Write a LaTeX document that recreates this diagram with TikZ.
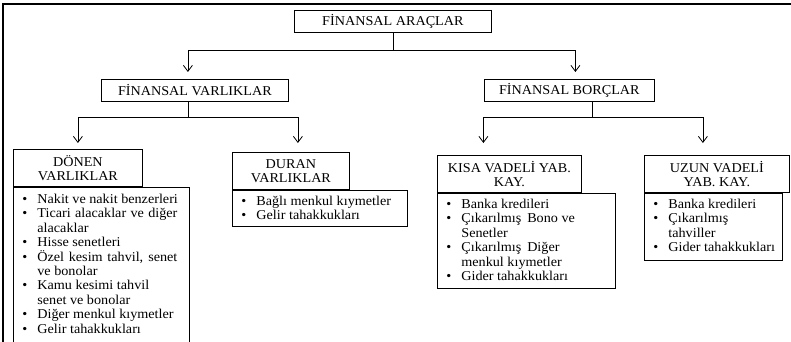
\documentclass[tikz,border=0pt]{standalone}
\usepackage{fontspec}
\setmainfont{Liberation Serif}[FakeStretch=1.05]
\usetikzlibrary{arrows.meta}
\newcommand{\bi}[1]{\hspace*{9pt}\makebox[15pt][l]{\textbullet}#1}
\newcommand{\ci}[1]{\hspace*{24pt}#1}
\newcommand{\ji}[2]{\hspace*{9pt}\makebox[15pt][l]{\textbullet}\makebox[#1][s]{#2}}
\begin{document}
\begin{tikzpicture}[x=1pt,y=-1pt,
  font=\fontsize{13.5}{14.4}\selectfont,
  box/.style={draw, line width=0.8pt, inner sep=0pt, anchor=north west, align=center},
  listbox/.style={draw, line width=0.8pt, inner sep=0pt, anchor=north west},
  conn/.style={line width=0.8pt},
  arr/.style={line width=0.8pt,-{Straight Barb[length=6pt,width=9pt]}}]
\useasboundingbox (0,0) rectangle (791,342);
\fill[white] (0,0) rectangle (791,342);
\draw[line width=1.4pt] (3,342) -- (3,4) -- (791,4);

% level 1 and 2
\node[box, minimum width=197pt, minimum height=22pt] (a) at (294,10) {FİNANSAL ARAÇLAR};
\node[box, minimum width=187pt, minimum height=22pt] (v) at (101,79) {FİNANSAL VARLIKLAR};
\node[box, minimum width=170pt, minimum height=22pt] (b) at (484,79) {FİNANSAL BORÇLAR};

% level 3 headers
\node[box, minimum width=129pt, minimum height=37pt] (d) at (13,149) {DÖNEN\\VARLIKLAR};
\node[box, minimum width=117pt, minimum height=37pt] (u) at (232,152) {DURAN\\VARLIKLAR};
\node[box, minimum width=144pt, minimum height=37pt] (k) at (437,155) {KISA VADELİ YAB.\\KAY.};
\node[box, minimum width=145pt, minimum height=37pt] (z) at (644,155) {UZUN VADELİ\\YAB. KAY.};

% lists
\node[listbox] (dl) at (d.south west) {\parbox[c][155pt][t]{176pt}{\raggedright\vspace*{7pt}%
\bi{Nakit ve nakit benzerleri}\\
\ji{140pt}{Ticari alacaklar ve diğer}\\
\ci{alacaklar}\\
\bi{Hisse senetleri}\\
\ji{140pt}{Özel kesim tahvil, senet}\\
\ci{ve bonolar}\\
\bi{Kamu kesimi tahvil}\\
\ci{senet ve bonolar}\\
\bi{Diğer menkul kıymetler}\\
\bi{Gelir tahakkukları}}};

\node[listbox] (ul) at (u.south west) {\parbox[c][36pt][t]{175pt}{\raggedright\vspace*{6pt}%
\bi{Bağlı menkul kıymetler}\\
\bi{Gelir tahakkukları}}};

\node[listbox] (kl) at (k.south west) {\parbox[c][95pt][t]{178pt}{\raggedright\vspace*{6pt}%
\bi{Banka kredileri}\\
\bi{Çıkarılmış\hspace{6pt}Bono ve}\\
\ci{Senetler}\\
\bi{Çıkarılmış\hspace{6pt}Diğer}\\
\ci{menkul kıymetler}\\
\bi{Gider tahakkukları}}};

\node[listbox] (zl) at (z.south west) {\parbox[c][67pt][t]{138pt}{\raggedright\vspace*{6pt}%
\bi{Banka kredileri}\\
\bi{Çıkarılmış}\\
\ci{tahviller}\\
\bi{Gider tahakkukları}}};

% connectors
\draw[conn] (a.south) -- ++(0,18) coordinate (ja);
\draw[arr, shorten >=7pt] (ja) -| ([xshift=-7pt]v.north);
\draw[arr, shorten >=7pt] (ja) -| ([xshift=6pt]b.north);

\draw[conn] ([xshift=-7pt]v.south) -- ++(0,16) coordinate (jv);
\draw[arr, shorten >=6pt] (jv) -| (d.north);
\draw[arr, shorten >=9pt] (jv) -| ([xshift=7pt]u.north);

\draw[conn] ([xshift=23pt]b.south) -- ++(0,16) coordinate (jb);
\draw[arr, shorten >=12pt] (jb) -| ([xshift=-26pt]k.north);
\draw[arr, shorten >=12pt] (jb) -| ([xshift=-14pt]z.north);
\end{tikzpicture}
\end{document}
